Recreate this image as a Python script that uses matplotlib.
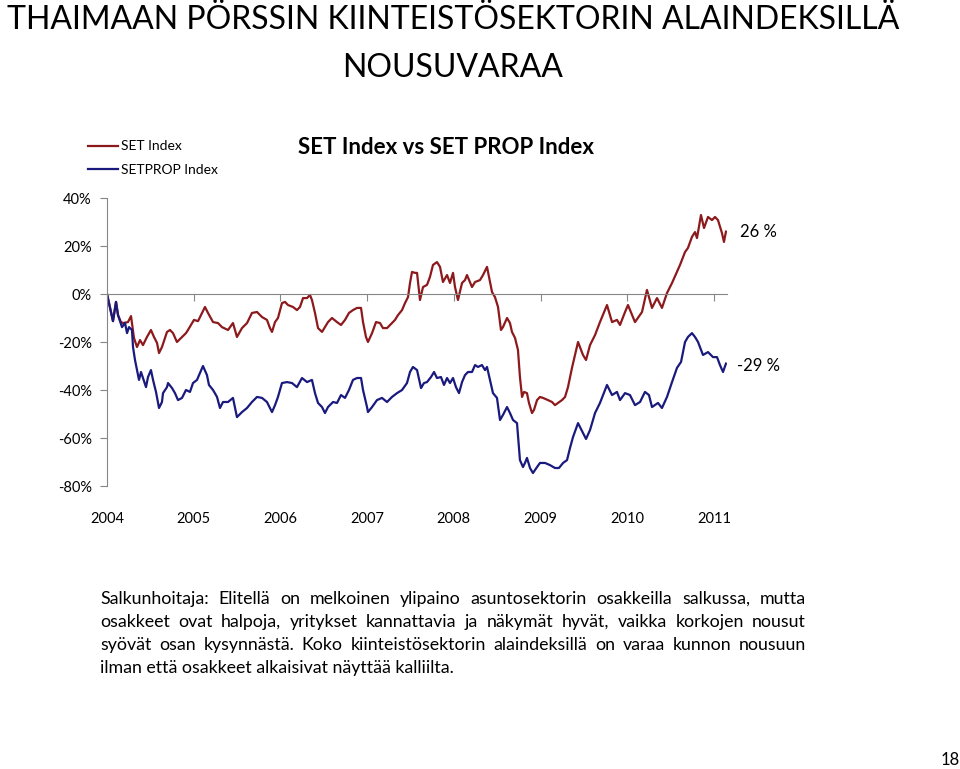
import matplotlib
matplotlib.use("Agg")
import matplotlib.pyplot as plt
import numpy as np

plt.rcParams['font.family'] = ['Lato', 'DejaVu Sans']

# SET Index, change since start of 2004 (%)
set_years = [2004.000, 2004.069, 2004.104, 2004.127, 2004.161, 2004.185, 2004.242, 2004.277, 2004.288, 2004.311,
             2004.346, 2004.381, 2004.415, 2004.461, 2004.507, 2004.542, 2004.577, 2004.600, 2004.634, 2004.692,
             2004.727, 2004.761, 2004.807, 2004.865, 2004.911, 2004.934, 2005.003, 2005.050, 2005.096, 2005.130,
             2005.165, 2005.223, 2005.280, 2005.326, 2005.396, 2005.453, 2005.499, 2005.557, 2005.615, 2005.672,
             2005.730, 2005.788, 2005.845, 2005.880, 2005.903, 2005.938, 2005.972, 2006.018, 2006.053, 2006.088,
             2006.145, 2006.191, 2006.226, 2006.261, 2006.307, 2006.341, 2006.364, 2006.399, 2006.434, 2006.480,
             2006.514, 2006.549, 2006.595, 2006.653, 2006.699, 2006.745, 2006.791, 2006.837, 2006.884, 2006.930,
             2006.953, 2006.987, 2007.010, 2007.057, 2007.103, 2007.149, 2007.183, 2007.230, 2007.287, 2007.322,
             2007.356, 2007.403, 2007.437, 2007.472, 2007.495, 2007.518, 2007.552, 2007.576, 2007.610, 2007.645,
             2007.691, 2007.725, 2007.760, 2007.806, 2007.841, 2007.875, 2007.922, 2007.956, 2007.991, 2008.014,
             2008.048, 2008.095, 2008.129, 2008.152, 2008.210, 2008.245, 2008.302, 2008.337, 2008.383, 2008.406,
             2008.441, 2008.475, 2008.510, 2008.544, 2008.567, 2008.614, 2008.648, 2008.671, 2008.706, 2008.740,
             2008.763, 2008.787, 2008.810, 2008.844, 2008.867, 2008.902, 2008.925, 2008.960, 2008.994, 2009.029,
             2009.086, 2009.133, 2009.167, 2009.202, 2009.248, 2009.283, 2009.317, 2009.363, 2009.433, 2009.490,
             2009.525, 2009.571, 2009.629, 2009.686, 2009.767, 2009.825, 2009.882, 2009.917, 2009.975, 2010.009,
             2010.090, 2010.171, 2010.228, 2010.286, 2010.344, 2010.401, 2010.459, 2010.517, 2010.574, 2010.609,
             2010.667, 2010.701, 2010.747, 2010.782, 2010.805, 2010.851, 2010.886, 2010.932, 2010.978, 2011.013,
             2011.047, 2011.093, 2011.116, 2011.139]
set_values = [0.0, -11.3, -3.3, -8.8, -11.7, -12.1, -11.7, -9.2, -12.1, -18.3,
              -22.1, -19.2, -21.3, -17.9, -15.0, -17.9, -20.4, -24.6, -22.1, -15.8,
              -15.0, -16.3, -20.0, -17.9, -16.3, -15.0, -10.8, -11.3, -7.9, -5.4,
              -7.9, -11.7, -12.1, -13.8, -15.0, -12.1, -17.9, -14.2, -12.1, -7.9,
              -7.5, -9.6, -10.8, -14.2, -15.8, -11.7, -10.0, -3.8, -3.3, -4.6,
              -5.4, -6.7, -5.4, -1.7, -1.7, -0.4, -2.5, -7.9, -14.2, -15.8,
              -13.8, -11.7, -10.0, -11.7, -12.9, -10.8, -7.9, -6.7, -5.8, -5.8,
              -11.7, -17.9, -20.0, -16.3, -11.7, -12.1, -14.2, -14.2, -12.1, -10.8,
              -8.8, -6.7, -3.8, -1.3, 4.6, 9.2, 8.8, 8.8, -2.5, 2.9,
              3.8, 7.1, 12.1, 13.3, 11.3, 5.0, 7.9, 4.6, 8.8, 2.9,
              -2.5, 4.6, 5.8, 7.9, 2.9, 5.0, 5.8, 7.9, 11.3, 7.1,
              0.8, -1.3, -5.4, -15.0, -13.8, -10.0, -12.1, -15.8, -18.3, -23.3,
              -34.6, -42.9, -40.8, -41.3, -45.4, -49.6, -48.3, -44.2, -42.9, -43.3,
              -44.2, -45.0, -46.3, -45.4, -44.2, -42.9, -38.8, -30.8, -20.0, -25.4,
              -27.5, -21.3, -17.1, -11.7, -4.6, -11.7, -10.8, -12.9, -7.5, -4.6,
              -11.7, -7.5, 1.7, -5.8, -1.7, -5.8, 0.4, 4.6, 9.2, 12.1,
              17.5, 19.2, 23.8, 25.8, 23.3, 32.9, 27.5, 32.1, 30.8, 32.1,
              30.8, 25.4, 21.7, 26.0]

# SETPROP Index, change since start of 2004 (%)
prop_years = [2004.000, 2004.069, 2004.104, 2004.127, 2004.173, 2004.208, 2004.231, 2004.254, 2004.288, 2004.300,
              2004.323, 2004.346, 2004.369, 2004.392, 2004.415, 2004.450, 2004.473, 2004.507, 2004.531, 2004.565,
              2004.600, 2004.634, 2004.646, 2004.692, 2004.704, 2004.750, 2004.784, 2004.819, 2004.865, 2004.911,
              2004.957, 2004.992, 2005.038, 2005.073, 2005.107, 2005.153, 2005.176, 2005.223, 2005.269, 2005.303,
              2005.338, 2005.396, 2005.453, 2005.499, 2005.557, 2005.615, 2005.672, 2005.730, 2005.788, 2005.845,
              2005.903, 2005.938, 2005.972, 2006.018, 2006.076, 2006.134, 2006.191, 2006.249, 2006.307, 2006.364,
              2006.399, 2006.434, 2006.480, 2006.514, 2006.549, 2006.607, 2006.653, 2006.699, 2006.745, 2006.791,
              2006.837, 2006.884, 2006.930, 2006.953, 2006.999, 2007.010, 2007.057, 2007.114, 2007.172, 2007.230,
              2007.287, 2007.345, 2007.403, 2007.460, 2007.495, 2007.529, 2007.576, 2007.622, 2007.656, 2007.691,
              2007.737, 2007.772, 2007.806, 2007.852, 2007.887, 2007.922, 2007.956, 2007.991, 2008.025, 2008.060,
              2008.095, 2008.129, 2008.164, 2008.210, 2008.245, 2008.279, 2008.325, 2008.360, 2008.383, 2008.417,
              2008.452, 2008.498, 2008.533, 2008.567, 2008.614, 2008.648, 2008.683, 2008.729, 2008.763, 2008.798,
              2008.821, 2008.844, 2008.879, 2008.913, 2008.960, 2008.994, 2009.052, 2009.110, 2009.167, 2009.213,
              2009.260, 2009.306, 2009.340, 2009.375, 2009.433, 2009.490, 2009.525, 2009.571, 2009.629, 2009.686,
              2009.767, 2009.825, 2009.882, 2009.917, 2009.975, 2010.032, 2010.090, 2010.148, 2010.205, 2010.251,
              2010.286, 2010.355, 2010.401, 2010.459, 2010.517, 2010.574, 2010.621, 2010.667, 2010.701, 2010.747,
              2010.782, 2010.817, 2010.874, 2010.932, 2010.990, 2011.036, 2011.070, 2011.105, 2011.139]
prop_values = [0.0, -11.3, -3.3, -8.8, -13.8, -12.1, -16.3, -13.8, -15.0, -22.1,
               -27.5, -31.7, -35.8, -32.5, -35.0, -38.8, -34.6, -31.7, -35.8, -40.8,
               -47.5, -45.0, -41.3, -38.8, -37.1, -39.2, -41.3, -44.2, -43.3, -40.0,
               -40.8, -37.1, -35.8, -32.9, -30.0, -33.8, -37.9, -40.0, -42.9, -47.5,
               -45.0, -45.0, -43.3, -51.3, -49.2, -47.5, -45.0, -42.9, -43.3, -45.0,
               -49.2, -46.3, -42.9, -37.1, -36.7, -37.1, -38.8, -35.0, -36.7, -35.8,
               -41.3, -45.4, -47.1, -49.6, -47.1, -45.0, -45.4, -42.1, -43.3, -40.0,
               -35.8, -35.0, -35.0, -40.0, -47.1, -49.2, -47.1, -44.2, -43.3, -45.0,
               -42.9, -41.3, -40.0, -37.1, -32.5, -30.4, -31.7, -39.2, -37.1, -36.7,
               -34.6, -32.5, -35.0, -34.6, -37.9, -35.0, -37.1, -35.0, -38.8, -41.3,
               -36.7, -33.8, -32.5, -32.5, -29.6, -30.4, -29.6, -31.7, -30.4, -35.8,
               -41.3, -43.3, -52.5, -50.4, -47.1, -49.6, -52.5, -53.8, -69.2, -72.1,
               -70.4, -68.3, -72.5, -74.6, -72.1, -70.4, -70.4, -71.3, -72.5, -72.5,
               -70.4, -69.2, -64.2, -59.6, -53.8, -57.9, -60.4, -56.7, -49.6, -45.4,
               -37.9, -42.1, -40.8, -44.2, -41.3, -42.1, -46.3, -45.0, -40.8, -42.1,
               -47.1, -45.4, -47.5, -42.9, -36.7, -30.8, -28.3, -20.0, -17.9, -16.3,
               -17.9, -20.0, -25.4, -24.2, -26.3, -26.3, -29.6, -32.5, -29.0]

year_ticks = [2004, 2005, 2006, 2007, 2008, 2009, 2010, 2011]
pct_ticks = [-80, -60, -40, -20, 0, 20, 40]

body_lines = [
    "Salkunhoitaja: Elitellä on melkoinen ylipaino asuntosektorin osakkeilla salkussa, mutta",
    "osakkeet ovat halpoja, yritykset kannattavia ja näkymät hyvät, vaikka korkojen nousut",
    "syövät osan kysynnästä. Koko kiinteistösektorin alaindeksillä on varaa kunnon nousuun",
    "ilman että osakkeet alkaisivat näyttää kalliilta.",
]

W, H = 960, 769
fig = plt.figure(figsize=(W / 100, H / 100), dpi=100)
ax = fig.add_axes([107 / W, 1 - 486 / H, 620 / W, 288 / H])

red = '#8c1a1c'
blue = '#1a1a7e'
ax.plot(set_years, set_values, color=red, lw=1.6, label='SET Index')
ax.plot(prop_years, prop_values, color=blue, lw=1.6, label='SETPROP Index')

ax.set_xlim(2004, 2004 + 620 / 86.7)
ax.set_ylim(-80, 40)

grey = '#868686'
for s in ['top', 'right']:
    ax.spines[s].set_visible(False)
ax.spines['left'].set_color(grey)
ax.spines['bottom'].set_position(('data', 0))
ax.spines['bottom'].set_color(grey)
ax.set_xticks(year_ticks)
ax.tick_params(axis='x', direction='out', length=5, color=grey, labelbottom=False)
ax.set_yticks(pct_ticks)
ax.set_yticklabels(['%d%%' % v for v in pct_ticks])
ax.tick_params(axis='y', direction='out', length=5, color=grey, labelsize=10.5, pad=6)

sec = ax.secondary_xaxis('bottom')
sec.set_xticks(year_ticks)
sec.set_xticklabels([str(y) for y in year_ticks])
sec.spines['bottom'].set_visible(False)
sec.tick_params(length=0, labelsize=10.5, pad=19)

# end labels
ax.annotate('26 %', xy=(set_years[-1], set_values[-1]), xytext=(10, 0), textcoords='offset points',
            va='center', fontsize=12)
ax.annotate('-29 %', xy=(prop_years[-1], prop_values[-1]), xytext=(8, -2), textcoords='offset points',
            va='center', fontsize=12)

ax.legend(loc='upper left', bbox_to_anchor=(75 / W, 1 - 128 / H), bbox_transform=fig.transFigure,
          frameon=False, fontsize=10, handlelength=2.2, handletextpad=0.2, labelspacing=0.85)

fig.text(453 / W, 1 - 20 / H, 'THAIMAAN PÖRSSIN KIINTEISTÖSEKTORIN ALAINDEKSILLÄ',
         ha='center', va='center', fontsize=23)
fig.text(453 / W, 1 - 68 / H, 'NOUSUVARAA', ha='center', va='center', fontsize=23)
fig.text(446 / W, 1 - 148 / H, 'SET Index vs SET PROP Index', ha='center', va='center',
         fontsize=16, fontweight='bold')

# justified body text
renderer = fig.canvas.get_renderer()
left, right = 100, 806
for i, line in enumerate(body_lines):
    ypos = 1 - (599 + i * 23) / H
    words = line.split(' ')
    if i == len(body_lines) - 1:
        fig.text(left / W, ypos, line, va='center', fontsize=12.8)
        continue
    texts = [fig.text(0, ypos, w, va='center', fontsize=12.8) for w in words]
    widths = [t.get_window_extent(renderer).width for t in texts]
    gap = (right - left - sum(widths)) / (len(words) - 1)
    x = left
    for t, wd in zip(texts, widths):
        t.set_x(x / W)
        x += wd + gap

fig.text(950 / W, 1 - 760 / H, '18', ha='center', va='center', fontsize=12)

fig.savefig('out.png', dpi=100)
